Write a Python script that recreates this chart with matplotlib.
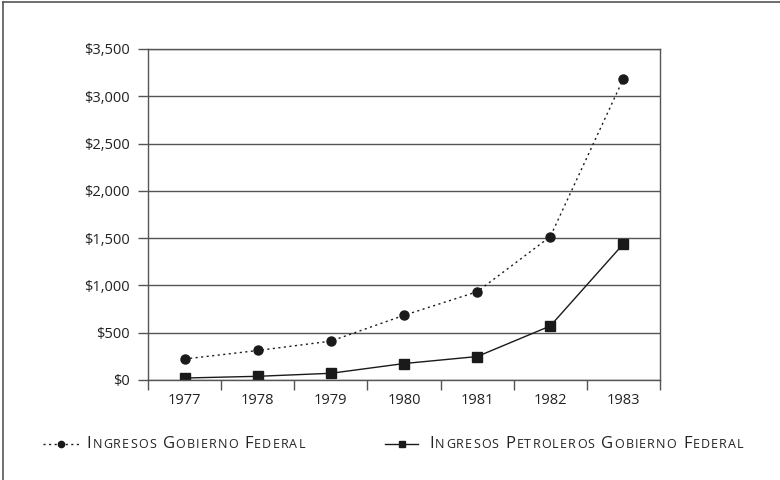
import matplotlib
matplotlib.use('Agg')
import matplotlib.pyplot as plt
from matplotlib.lines import Line2D
from matplotlib.offsetbox import TextArea, HPacker, DrawingArea, AnchoredOffsetbox
from matplotlib.ticker import FuncFormatter, MultipleLocator

plt.rcParams['font.family'] = ['Open Sans', 'DejaVu Sans']

# Data (millones de pesos, estimado del gráfico)
years = ['1977', '1978', '1979', '1980', '1981', '1982', '1983']
ingresos_federal = [222, 312, 411, 684, 933, 1516, 3186]
ingresos_petroleros = [21, 39, 71, 174, 248, 571, 1440]

label_federal = 'Ingresos Gobierno Federal'
label_petroleros = 'Ingresos Petroleros Gobierno Federal'

grey = '#555555'
ink = '#1a1a1a'

fig = plt.figure(figsize=(7.8, 4.8), dpi=100)
ax = fig.add_axes([148 / 780, 100 / 480, 512 / 780, 331 / 480])

x = list(range(len(years)))
ax.plot(x, ingresos_federal, linestyle=(0, (1.5, 2.5)), color=ink, linewidth=1,
        marker='o', markersize=6.5)
ax.plot(x, ingresos_petroleros, linestyle='-', color=ink, linewidth=1,
        marker='s', markersize=7)

ax.set_xlim(-0.5, len(years) - 0.5)
ax.set_ylim(0, 3500)
ax.yaxis.set_major_locator(MultipleLocator(500))
ax.yaxis.set_major_formatter(FuncFormatter(lambda v, p: '${:,.0f}'.format(v)))
ax.yaxis.grid(True, color=grey, linewidth=1)
ax.set_axisbelow(True)

ax.set_xticks(x)
ax.set_xticklabels(years)
ax.set_xticks([i - 0.5 for i in range(len(years) + 1)], minor=True)
ax.tick_params(axis='x', which='major', length=0, pad=9, labelsize=10.5, labelcolor='#222222')
ax.tick_params(axis='x', which='minor', length=7, width=1, color=grey, direction='out')
ax.tick_params(axis='y', length=7, width=1, color=grey, pad=6, labelsize=10.5, labelcolor='#222222')

for s in ['left', 'right', 'top', 'bottom']:
    ax.spines[s].set_color(grey)
    ax.spines[s].set_linewidth(1)


def small_caps(s, big=12, small=9, track=0.8):
    # imitate spaced small capitals: capitals full size, lowercase as smaller capitals
    boxes = []
    for ch in s:
        size = small if ch.islower() else big
        boxes.append(TextArea(ch.upper(), textprops=dict(fontsize=size, color='#222222')))
    return HPacker(children=boxes, align='baseline', pad=0, sep=track)


def handle(width, style, marker, ms):
    # sizes in points
    da = DrawingArea(width, 8, 0, 0)
    da.add_artist(Line2D([0, width], [4, 4], linestyle=style, color=ink, linewidth=1))
    da.add_artist(Line2D([width / 2], [4], marker=marker, markersize=ms, color=ink))
    return da


entry1 = HPacker(children=[handle(26.5, (0, (1.5, 2.5)), 'o', 4.5), small_caps(label_federal)],
                 align='center', pad=0, sep=5)
entry2 = HPacker(children=[handle(24, '-', 's', 5), small_caps(label_petroleros)],
                 align='center', pad=0, sep=8)
for entry, xpos in [(entry1, 43 / 780), (entry2, 385 / 780)]:
    ab = AnchoredOffsetbox(loc='center left', child=entry, pad=0, borderpad=0,
                           frameon=False, bbox_to_anchor=(xpos, 1 - 444 / 480),
                           bbox_transform=fig.transFigure)
    fig.add_artist(ab)

# outer frame (left and top edges visible)
fig.add_artist(Line2D([3 / 780, 3 / 780], [0, 1 - 2 / 480], color=grey, linewidth=1.2,
                      transform=fig.transFigure))
fig.add_artist(Line2D([3 / 780, 1], [1 - 2 / 480, 1 - 2 / 480], color=grey, linewidth=1.2,
                      transform=fig.transFigure))

fig.savefig('out.png', dpi=100)
